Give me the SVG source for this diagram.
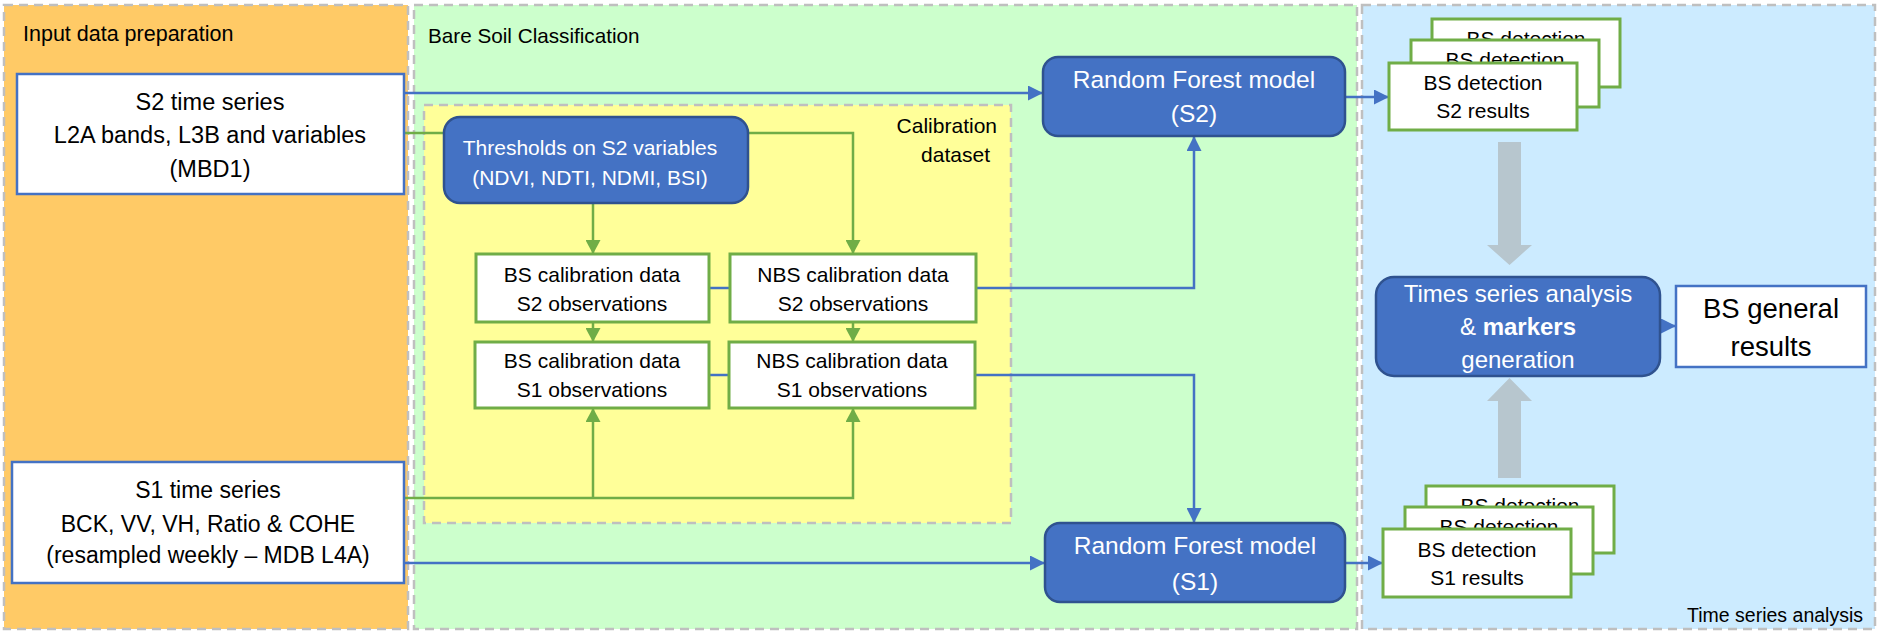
<svg xmlns="http://www.w3.org/2000/svg" width="1879" height="631" viewBox="0 0 1879 631">
<style>
text{font-family:"Liberation Sans",Arial,sans-serif;fill:#000}
.panel{stroke:#BFBFBF;stroke-width:2.5;stroke-dasharray:9,6}
.in{fill:#fff;stroke:#4472C4;stroke-width:2.5}
.gb{fill:#fff;stroke:#70AD47;stroke-width:3}
.bb{fill:#4472C4;stroke:#2F528F;stroke-width:2.5}
.wt{fill:#fff}
.bl{fill:none;stroke:#4472C4;stroke-width:2.5}
.gl{fill:none;stroke:#70AD47;stroke-width:2.5}
.ga{fill:#B7C6CE}
.c{text-anchor:middle}
</style>
<defs>
<marker id="ab" markerUnits="userSpaceOnUse" markerWidth="15" markerHeight="15" refX="15" refY="7.5" orient="auto"><path d="M0,0 L15,7.5 L0,15 z" fill="#4472C4"/></marker>
<marker id="ag" markerUnits="userSpaceOnUse" markerWidth="15" markerHeight="15" refX="14" refY="7.5" orient="auto"><path d="M0,0 L14,7.5 L0,15 z" fill="#70AD47"/></marker>
</defs>
<rect width="1879" height="631" fill="#fff"/>
<g id="panel-input">
<rect class="panel" x="4" y="5" width="404" height="624" fill="#FFCA66"/>
<text x="23" y="41" font-size="21.5">Input data preparation</text>
</g>
<g id="panel-bsc">
<rect class="panel" x="414" y="5" width="943" height="624" fill="#CCFFCC"/>
<text x="428" y="43" font-size="20.7">Bare Soil Classification</text>
</g>
<g id="panel-tsa">
<rect class="panel" x="1362" y="5" width="513" height="624" fill="#CCEBFF"/>
<text x="1863" y="622" font-size="19.5" text-anchor="end">Time series analysis</text>
</g>
<g id="calibration-dataset">
<rect class="panel" x="424" y="105" width="587" height="418" fill="#FFFF99"/>
<text x="997" y="133" font-size="21" text-anchor="end">Calibration</text>
<text x="990" y="162" font-size="21" text-anchor="end">dataset</text>
</g>
<g id="connectors">
<path class="bl" d="M404,93 H1043" marker-end="url(#ab)"/>
<path class="gl" d="M404,133 H444"/>
<path class="gl" d="M748,133 H853 V254" marker-end="url(#ag)"/>
<path class="gl" d="M593,203 V254" marker-end="url(#ag)"/>
<path class="gl" d="M593,322 V342" marker-end="url(#ag)"/>
<path class="gl" d="M853,322 V342" marker-end="url(#ag)"/>
<path class="gl" d="M404,498 H853 V408" marker-end="url(#ag)"/>
<path class="gl" d="M593,498 V408" marker-end="url(#ag)"/>
<path class="bl" d="M709,288 H730"/>
<path class="bl" d="M709,375 H729"/>
<path class="bl" d="M976,288 H1194 V136" marker-end="url(#ab)"/>
<path class="bl" d="M975,375 H1194 V523" marker-end="url(#ab)"/>
<path class="bl" d="M404,563 H1045" marker-end="url(#ab)"/>
<path class="bl" d="M1345,97 H1389" marker-end="url(#ab)"/>
<path class="bl" d="M1345,563 H1383" marker-end="url(#ab)"/>
<path class="bl" d="M1660,326 H1676" marker-end="url(#ab)"/>
<path class="ga" d="M1498,142 H1521 V245 H1532 L1509.5,265 L1487,245 H1498 Z"/>
<path class="ga" d="M1498,478 H1521 V401 H1532 L1509.5,378 L1487,401 H1498 Z"/>
</g>
<g id="s2-time-series">
<rect class="in" x="17" y="74" width="387" height="120"/>
<text class="c" x="210" y="110" font-size="23.5">S2 time series</text>
<text class="c" x="210" y="143" font-size="23.5">L2A bands, L3B and variables</text>
<text class="c" x="210" y="177" font-size="23.5">(MBD1)</text>
</g>
<g id="s1-time-series">
<rect class="in" x="12" y="462" width="392" height="121"/>
<text class="c" x="208" y="498" font-size="23">S1 time series</text>
<text class="c" x="208" y="532" font-size="23">BCK, VV, VH, Ratio &amp; COHE</text>
<text class="c" x="208" y="563" font-size="23">(resampled weekly – MDB L4A)</text>
</g>
<g id="thresholds">
<rect class="bb" x="444" y="117" width="304" height="86" rx="16"/>
<text class="c wt" x="590" y="155" font-size="21">Thresholds on S2 variables</text>
<text class="c wt" x="590" y="185" font-size="21">(NDVI, NDTI, NDMI, BSI)</text>
</g>
<g id="bs-cal-s2">
<rect class="gb" x="476" y="254" width="233" height="68"/>
<text class="c" x="592" y="282" font-size="21">BS calibration data</text>
<text class="c" x="592" y="311" font-size="21">S2 observations</text>
</g>
<g id="nbs-cal-s2">
<rect class="gb" x="730" y="254" width="246" height="68"/>
<text class="c" x="853" y="282" font-size="21">NBS calibration data</text>
<text class="c" x="853" y="311" font-size="21">S2 observations</text>
</g>
<g id="bs-cal-s1">
<rect class="gb" x="475" y="342" width="234" height="66"/>
<text class="c" x="592" y="368" font-size="21">BS calibration data</text>
<text class="c" x="592" y="397" font-size="21">S1 observations</text>
</g>
<g id="nbs-cal-s1">
<rect class="gb" x="729" y="342" width="246" height="66"/>
<text class="c" x="852" y="368" font-size="21">NBS calibration data</text>
<text class="c" x="852" y="397" font-size="21">S1 observations</text>
</g>
<g id="rf-s2">
<rect class="bb" x="1043" y="57" width="302" height="79" rx="15"/>
<text class="c wt" x="1194" y="88" font-size="24.5">Random Forest model</text>
<text class="c wt" x="1194" y="122" font-size="24.5">(S2)</text>
</g>
<g id="rf-s1">
<rect class="bb" x="1045" y="523" width="300" height="79" rx="15"/>
<text class="c wt" x="1195" y="554" font-size="24.5">Random Forest model</text>
<text class="c wt" x="1195" y="590" font-size="24.5">(S1)</text>
</g>
<g id="bs-detection-s2">
<rect class="gb" x="1432" y="19" width="188" height="68"/>
<text class="c" x="1526" y="46" font-size="21">BS detection</text>
<rect class="gb" x="1411" y="40" width="188" height="67"/>
<text class="c" x="1505" y="67" font-size="21">BS detection</text>
<rect class="gb" x="1389" y="63" width="188" height="67"/>
<text class="c" x="1483" y="90" font-size="21">BS detection</text>
<text class="c" x="1483" y="118" font-size="21">S2 results</text>
</g>
<g id="bs-detection-s1">
<rect class="gb" x="1426" y="486" width="188" height="67"/>
<text class="c" x="1520" y="513" font-size="21">BS detection</text>
<rect class="gb" x="1405" y="507" width="188" height="67"/>
<text class="c" x="1499" y="534" font-size="21">BS detection</text>
<rect class="gb" x="1383" y="529" width="188" height="68"/>
<text class="c" x="1477" y="557" font-size="21">BS detection</text>
<text class="c" x="1477" y="585" font-size="21">S1 results</text>
</g>
<g id="time-series-analysis">
<rect class="bb" x="1376" y="277" width="284" height="99" rx="18"/>
<text class="c wt" x="1518" y="302" font-size="24">Times series analysis</text>
<text class="c wt" x="1518" y="335" font-size="24">&amp; <tspan font-weight="bold">markers</tspan></text>
<text class="c wt" x="1518" y="368" font-size="24">generation</text>
</g>
<g id="bs-general-results">
<rect class="in" x="1676" y="286" width="190" height="81"/>
<text class="c" x="1771" y="318" font-size="27.5">BS general</text>
<text class="c" x="1771" y="356" font-size="27.5">results</text>
</g>
</svg>
